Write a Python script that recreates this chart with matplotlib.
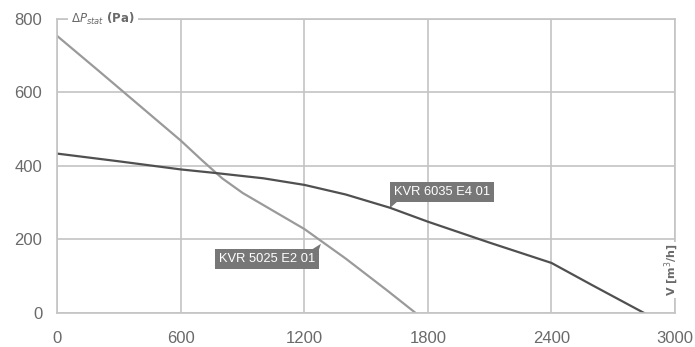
import matplotlib.pyplot as plt
import matplotlib.transforms as mtransforms
from matplotlib.patches import Polygon

# Fan curves
flow_5025 = [0, 200, 400, 600, 700, 800, 900, 1050, 1200, 1400, 1600, 1740]
pres_5025 = [752, 658, 563, 468, 416, 366, 326, 277, 228, 148, 62, 0]

flow_6035 = [0, 300, 600, 757, 1000, 1200, 1400, 1615, 1800, 2100, 2400, 2600, 2850]
pres_6035 = [433, 412, 390, 381, 366, 348, 322, 286, 248, 191, 136, 75, 0]

x_ticks = [0, 600, 1200, 1800, 2400, 3000]
y_ticks = [0, 200, 400, 600, 800]

label_5025 = 'KVR 5025 E2 01'
label_6035 = 'KVR 6035 E4 01'
# where the callouts point on each curve
point_5025 = (1280, 188)
point_6035 = (1615, 286)

grid_c = '#c4c4c4'
text_c = '#6a6a6a'
box_c = '#777777'

fig = plt.figure(figsize=(6.95, 3.47), dpi=100)
ax = fig.add_axes([0.0827, 0.098, 0.8885, 0.8485])

ax.plot(flow_5025, pres_5025, color='#9a9a9a', lw=1.6)
ax.plot(flow_6035, pres_6035, color='#505050', lw=1.6)

ax.set_xlim(0, 3000)
ax.set_ylim(0, 800)
ax.set_xticks(x_ticks)
ax.set_yticks(y_ticks)
ax.grid(True, color=grid_c, lw=1.2)
ax.set_axisbelow(True)
for s in ax.spines.values():
    s.set_color(grid_c)
    s.set_linewidth(1.2)
ax.tick_params(length=0, colors=text_c, labelsize=12)
ax.tick_params(axis='x', pad=13)
ax.tick_params(axis='y', pad=11)
for lab in ax.get_xticklabels() + ax.get_yticklabels():
    lab.set_family('Liberation Sans')

# axis titles
ax.text(0.022, 1.0, r'$\Delta \mathit{P}_{stat}$ (Pa)', transform=ax.transAxes,
        ha='left', va='center', fontsize=8.5, color=text_c, fontweight='bold',
        bbox=dict(fc='white', ec='none', pad=2))
ax.text(0.995, 0.146, r'V [m$^3$/h]', transform=ax.transAxes, rotation=90,
        ha='center', va='center', fontsize=8, color=text_c, fontweight='bold',
        bbox=dict(fc='white', ec='none', pad=1.5))


def callout(text, point, corner, tri, ha, va):
    # box corner offset (points) from the curve point, triangle pointer between
    pad = 0.3 * 9.3
    sx = 1 if ha == 'left' else -1
    sy = 1 if va == 'bottom' else -1
    ax.annotate(text, xy=point, xytext=(corner[0] + sx * pad, corner[1] + sy * pad),
                textcoords='offset points', fontsize=9.3, color='white',
                family='Liberation Sans', ha=ha, va=va,
                bbox=dict(boxstyle='square,pad=0.3', fc=box_c, ec='none'))
    trans = (mtransforms.Affine2D().scale(fig.dpi / 72.0)
             + mtransforms.ScaledTranslation(point[0], point[1], ax.transData))
    ax.add_patch(Polygon(tri, closed=True, fc=box_c, ec='none', transform=trans,
                         clip_on=False))


callout(label_6035, point_6035, (0, 4.3), [(0, 0), (0, 4.8), (6, 4.8)], 'left', 'bottom')
callout(label_5025, point_5025, (-1.4, -3.6), [(0, 0), (-1.4, -4.1), (-6.5, -4.1)], 'right', 'top')

fig.savefig('out.png', dpi=100)
